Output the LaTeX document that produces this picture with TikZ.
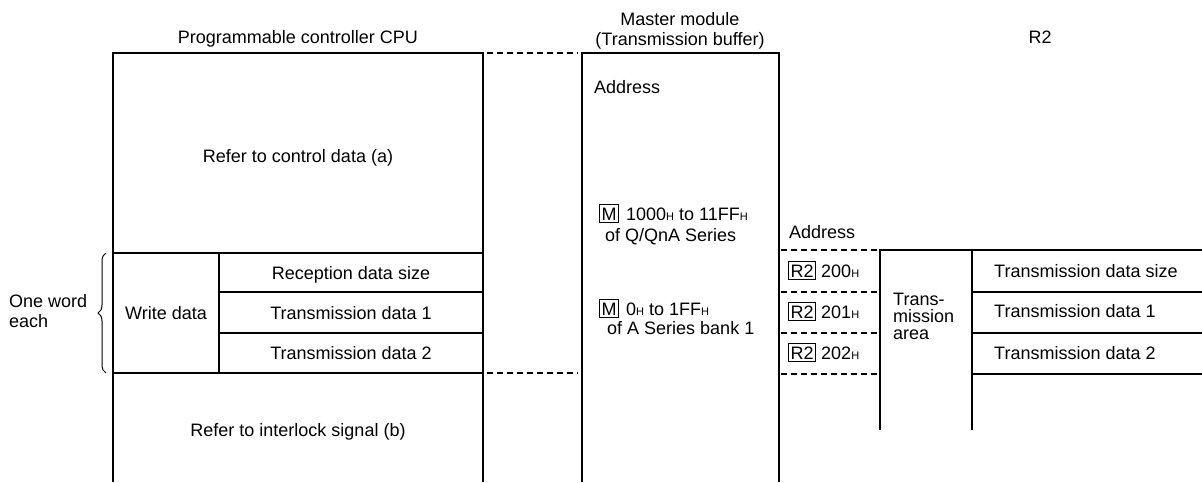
\documentclass[tikz,border=0pt]{standalone}
\usepackage{fontspec}
\setmainfont{Liberation Sans}
\usetikzlibrary{decorations.pathreplacing}
\newcommand\subH{{\fontsize{11}{11}\selectfont H}}
\begin{document}
\begin{tikzpicture}[x=1pt,y=-1pt,
  txt/.style={inner sep=0pt, font=\fontsize{18}{20}\selectfont},
  frame/.style={line width=1.9pt},
  dashline/.style={line width=1.7pt, dash pattern=on 6pt off 4pt},
  tagbox/.style={draw, line width=1pt, inner xsep=2pt, inner ysep=2.5pt, text height=13pt, text depth=0pt, font=\fontsize{18}{18}\selectfont}
]
\useasboundingbox (0,0) rectangle (1202,482);

% CPU area
\draw[frame] (113,482) -- (113,53) -- (483,53) -- (483,482);
\draw[frame] (113,253) -- (483,253);
\draw[frame] (219,292) -- (483,292);
\draw[frame] (219,333) -- (483,333);
\draw[frame] (113,373) -- (483,373);
\draw[frame] (219,253) -- (219,373);

\draw[dashline] (487,53) -- (578,53);
\draw[dashline] (487,373) -- (578,373);

% Master module
\draw[frame] (582,482) -- (582,53) -- (779,53) -- (779,482);

% R2 area
\draw[dashline] (781,250) -- (880,250);
\draw[dashline] (781,292) -- (880,292);
\draw[dashline] (781,333) -- (880,333);
\draw[dashline] (781,374) -- (880,374);
\draw[frame] (880,430) -- (880,250) -- (1202,250);
\draw[frame] (972,250) -- (972,430);
\draw[frame] (972,292) -- (1202,292);
\draw[frame] (972,333) -- (1202,333);
\draw[frame] (972,374) -- (1202,374);

% Titles
\node[txt, anchor=base] (cputitle) at (298,43) {Programmable controller CPU};
\node[txt, anchor=north, align=center] (mtitle) at (680,12) {Master module\\(Transmission buffer)};
\node[txt, anchor=base] (r2title) at (1040,43) {R2};

% CPU texts
\node[txt, anchor=base] (ctrl) at (298,162) {Refer to control data (a)};
\node[txt, anchor=base] (rsize) at (351,279) {Reception data size};
\node[txt, anchor=base] (td1) at (351,319) {Transmission data 1};
\node[txt, anchor=base] (td2) at (351,359.5) {Transmission data 2};
\node[txt, anchor=base] (wd) at (166,319) {Write data};
\node[txt, anchor=base] (intl) at (298,436) {Refer to interlock signal (b)};
\node[txt, anchor=west, align=left] (oneword) at (9,311.5) {One word\\each};
\draw[line width=1pt, decorate, decoration={brace, amplitude=8pt}] (106,373) -- (106,253);

% Master texts
\node[txt, anchor=base west] (addr1) at (594,93) {Address};
\node[tagbox, anchor=base west] (m1) at (599,220) {M};
\node[txt, anchor=base west] (m1t) at ([xshift=7pt]m1.base east) {1000\subH{} to 11FF\subH};
\node[txt, anchor=base west] (m1s) at (605,241) {of Q/QnA Series};
\node[tagbox, anchor=base west] (m2) at (599,315) {M};
\node[txt, anchor=base west] (m2t) at ([xshift=7pt]m2.base east) {0\subH{} to 1FF\subH};
\node[txt, anchor=base west] (m2s) at (607,334) {of A Series bank 1};

% R2 texts
\node[txt, anchor=base west] (addr2) at (789,238) {Address};
\node[tagbox, anchor=base west] (r2a) at (788,277) {R2};
\node[txt, anchor=base west] (r2at) at ([xshift=5pt]r2a.base east) {200\subH};
\node[tagbox, anchor=base west] (r2b) at (788,318) {R2};
\node[txt, anchor=base west] (r2bt) at ([xshift=5pt]r2b.base east) {201\subH};
\node[tagbox, anchor=base west] (r2c) at (788,359) {R2};
\node[txt, anchor=base west] (r2ct) at ([xshift=5pt]r2c.base east) {202\subH};
\node[txt, anchor=west, align=left, font=\fontsize{18}{17}\selectfont] (tarea) at (893,316.5) {Trans-\\mission\\area};
\node[txt, anchor=base west] (rts) at (994,277) {Transmission data size};
\node[txt, anchor=base west] (rt1) at (994,317) {Transmission data 1};
\node[txt, anchor=base west] (rt2) at (994,359) {Transmission data 2};
\end{tikzpicture}
\end{document}
